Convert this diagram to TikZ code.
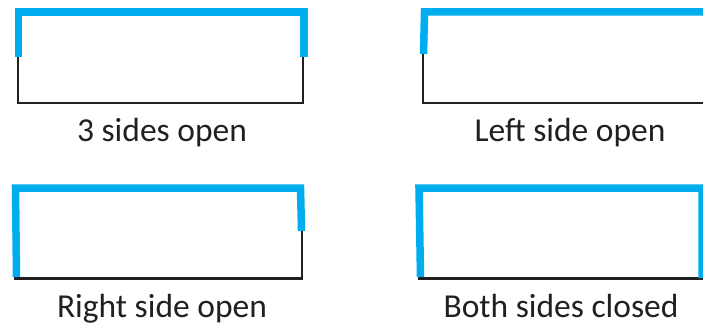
\documentclass[tikz,border=0pt]{standalone}
\usepackage{fontspec}
\setmainfont{Carlito}
\definecolor{lidblue}{HTML}{00AEEF}
\definecolor{walldark}{HTML}{231F20}
\tikzset{
  wall/.style={draw=walldark, line width=2.4pt, line join=miter},
  lid/.style={draw=lidblue, line width=7.5pt, line join=miter},
  caption/.style={anchor=base, font=\fontsize{33.5}{33.5}\selectfont, text=walldark}
}

\begin{document}
\begin{tikzpicture}[x=1pt, y=-1pt]

  % Frame
  \useasboundingbox (0,0) rectangle (703,326);
  \clip (0,0) rectangle (703,326);

  % 3 sides open
  \coordinate (ol) at (18,57);
  \coordinate (or) at (303,57);
  \draw[wall] (ol) -- (18,103) -- (303,103) -- (or);
  \draw[lid] (18.5,57) -- (18.5,12) -- (304,12) -- (304,57);
  \node[caption] (open3) at (162,141) {3 sides open};

  % Left side open
  \coordinate (ll) at (423,54);
  \draw[wall] (ll) -- (423,103) -- (720,103);
  \draw[lid] (423.5,54) -- (424.5,12) -- (720,12);
  \node[caption] (openleft) at (570,141) {Left side open};

  % Right side open
  \coordinate (rr) at (302,231);
  \draw[wall] (15,275) -- (15,278.5) -- (302,278.5) -- (rr);
  \draw[lid] (16.5,277) -- (15.5,188) -- (300.5,188) -- (301.5,231);
  \node[caption] (openright) at (162,317) {Right side open};

  % Both sides closed
  \coordinate (bl) at (418,278.5);
  \draw[wall] (bl) -- (703,278.5);
  \draw[lid] (420.5,277) -- (419,188) -- (702,188) -- (702,278);
  \node[caption] (closedboth) at (561,317) {Both sides closed};

\end{tikzpicture}
\end{document}
